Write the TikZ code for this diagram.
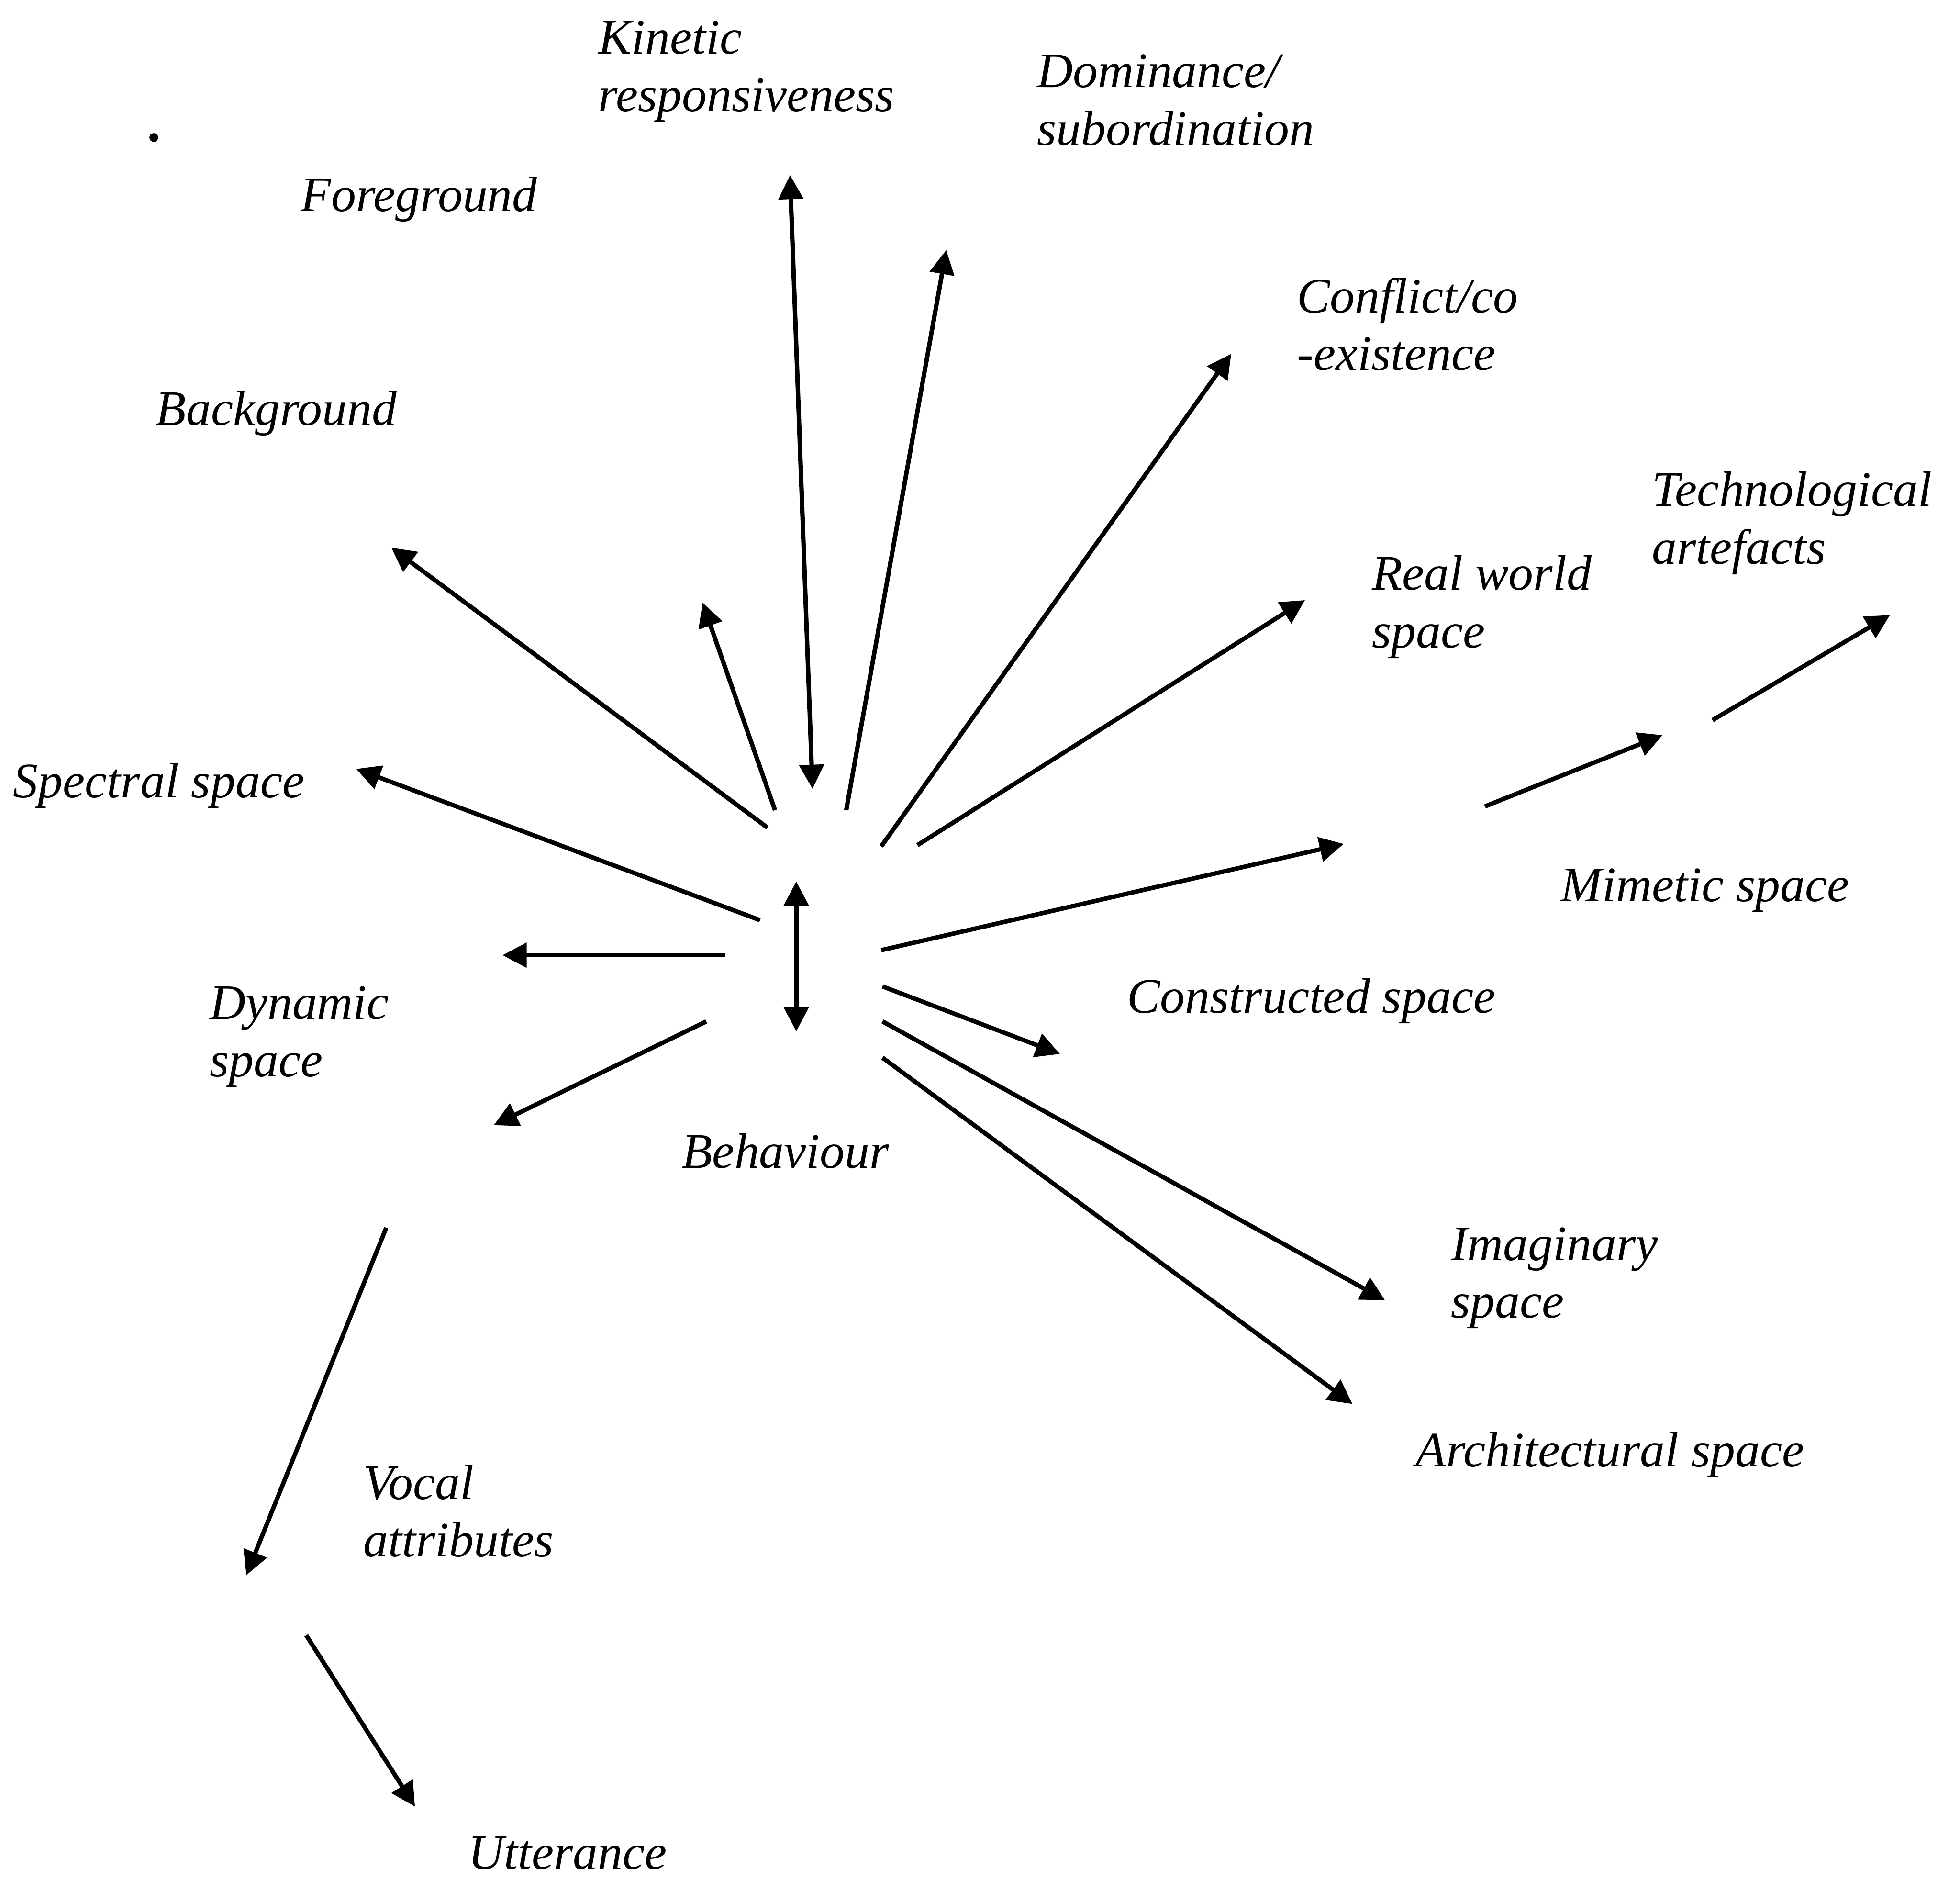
\documentclass[tikz,border=0pt]{standalone}
\usepackage{fontspec}
\setmainfont{Liberation Serif}
\usetikzlibrary{arrows.meta}
\tikzset{
  lbl/.style={font=\fontsize{11.3pt}{13.1pt}\selectfont\itshape, inner sep=0pt, anchor=west, align=left, text height=0.68em, text depth=0.22em},
  arr/.style={line width=1pt, -{Triangle[length=5.5pt,width=5.5pt]}},
  darr/.style={line width=1pt, {Triangle[length=5.5pt,width=5.5pt]}-{Triangle[length=5.5pt,width=5.5pt]}}
}
\begin{document}
\begin{tikzpicture}[x=0.01cm,y=-0.01cm]
\useasboundingbox (0,0) rectangle (1568,1503.4);
% labels
\node[lbl] (kin) at (478,81) {Kinetic\\responsiveness};
\node[lbl] (dom) at (829,108) {Dominance/\\subordination};
\node[lbl] (fore) at (240,161) {Foreground};
\node[lbl] (conf) at (1037,288) {Conflict/co\\-existence};
\node[lbl] (back) at (124,332) {Background};
\node[lbl] (tech) at (1321,443) {Technological\\artefacts};
\node[lbl] (real) at (1097,510) {Real world\\space};
\node[lbl] (spec) at (10,630) {Spectral space};
\node[lbl] (mim) at (1248,713) {Mimetic space};
\node[lbl] (cons) at (901,802) {Constructed space};
\node[lbl] (dyn) at (167,853) {Dynamic\\space};
\node[lbl] (beh) at (545,926) {Behaviour};
\node[lbl] (imag) at (1160,1046) {Imaginary\\space};
\node[lbl] (arch) at (1132,1165) {Architectural space};
\node[lbl] (voc) at (290,1237) {Vocal\\attributes};
\node[lbl] (utt) at (374,1487) {Utterance};
\fill (123,110) circle[radius=3.5];
% coordinates
\coordinate (k1) at (632,140);  \coordinate (k2) at (650,631);
\coordinate (d1) at (677,648);  \coordinate (d2) at (757,200);
\coordinate (c1) at (705,677);  \coordinate (c2) at (985,283);
\coordinate (r1) at (734,676);  \coordinate (r2) at (1044,480);
\coordinate (m1) at (705,760);  \coordinate (m2) at (1075,675);
\coordinate (m3) at (1188,645); \coordinate (m4) at (1330,588);
\coordinate (t1) at (1370,576); \coordinate (t2) at (1512,492);
\coordinate (s1) at (706,789);  \coordinate (s2) at (848,843);
\coordinate (i1) at (706,817);  \coordinate (i2) at (1108,1040);
\coordinate (a1) at (706,846);  \coordinate (a2) at (1082,1123);
\coordinate (b1) at (637,705);  \coordinate (b2) at (637,825);
\coordinate (g1) at (614,662);  \coordinate (g2) at (313,438);
\coordinate (f1) at (620,648);  \coordinate (f2) at (562,482);
\coordinate (p1) at (608,736);  \coordinate (p2) at (285,615);
\coordinate (h1) at (580,764);  \coordinate (h2) at (402,764);
\coordinate (y1) at (565,817);  \coordinate (y2) at (395,900);
\coordinate (v1) at (309,982);  \coordinate (v2) at (197,1260);
\coordinate (u1) at (245,1308); \coordinate (u2) at (332,1445);
% arrows
\draw[darr] (k1) -- (k2);
\draw[arr] (d1) -- (d2);
\draw[arr] (c1) -- (c2);
\draw[arr] (r1) -- (r2);
\draw[arr] (m1) -- (m2);
\draw[arr] (m3) -- (m4);
\draw[arr] (t1) -- (t2);
\draw[arr] (s1) -- (s2);
\draw[arr] (i1) -- (i2);
\draw[arr] (a1) -- (a2);
\draw[darr] (b1) -- (b2);
\draw[arr] (g1) -- (g2);
\draw[arr] (f1) -- (f2);
\draw[arr] (p1) -- (p2);
\draw[arr] (h1) -- (h2);
\draw[arr] (y1) -- (y2);
\draw[arr] (v1) -- (v2);
\draw[arr] (u1) -- (u2);
\end{tikzpicture}
\end{document}
